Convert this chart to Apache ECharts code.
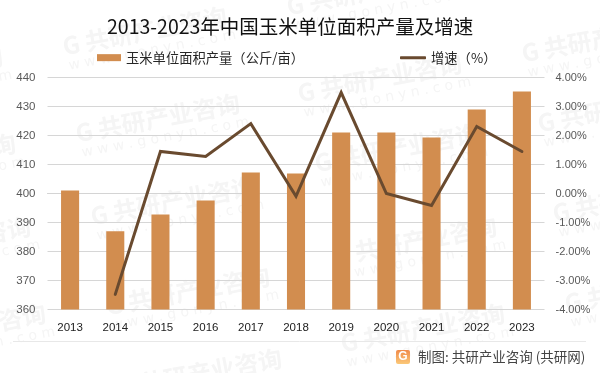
<!DOCTYPE html>
<html><head><meta charset="utf-8">
<style>html,body{margin:0;padding:0;background:#fff}#c{width:600px;height:373px}</style>
<script src="https://cdn.jsdelivr.net/npm/echarts@6/dist/echarts.min.js"></script>
</head><body><div id="c"></div>
<script>
const categories=['2013','2014','2015','2016','2017','2018','2019','2020','2021','2022','2023'];
const yieldValues=[401,387,392.8,397.6,407.2,406.9,421,421,419.3,429,435.2];
const growthValues=[null,-3.48,1.45,1.28,2.41,-0.1,3.48,0,-0.41,2.31,1.45];
const title='2013-2023年中国玉米单位面积产量及增速';
const barName='玉米单位面积产量（公斤/亩）';
const lineName='增速（%）';
const source='制图: 共研产业咨询 (共研网)';
const markOrigins=[[-159,98],[65,58],[289,18],[513,-22],[-146,185],[78,145],[300,105],[524,65],[-131,268],[93,228],[317,175],[540,135],[-116,355],[108,318],[335,268],[555,225],[120,400],[343,355],[567,315]];
const marks=[];
markOrigins.forEach(function(p){
  marks.push({type:'text',x:p[0],y:p[1],rotation:0.184,silent:true,z:0,
    style:{text:'G 共研产业咨询',font:'bold 24px "Noto Sans CJK SC"',fill:'#f5f5f5',textVerticalAlign:'bottom'}});
  marks.push({type:'text',x:p[0]+5,y:p[1]+15,rotation:0.184,silent:true,z:0,
    style:{text:'w w w . g o n y n . c o m',font:'14px "DejaVu Sans"',fill:'#f5f5f5',textVerticalAlign:'bottom'}});
});
const chart=echarts.init(document.getElementById('c'),null,{renderer:'canvas'});
const legendText={fontFamily:'"Noto Sans CJK SC"',fontSize:13.3,color:'#262626'};
chart.setOption({
  animation:false,backgroundColor:'#fff',
  title:{text:title,left:102,top:12,textStyle:{fontFamily:'"Noto Sans CJK SC"',fontSize:19.5,fontWeight:'normal',color:'#111'}},
  legend:[
    {top:46,left:92,itemGap:0,itemWidth:24,itemHeight:7,icon:'rect',textStyle:legendText,data:[barName]},
    {top:46,left:395,itemGap:0,itemWidth:26,itemHeight:3,icon:'roundRect',textStyle:legendText,data:[lineName]}
  ],
  grid:{left:47.5,right:55.5,top:77.5,height:232,containLabel:false},
  xAxis:{type:'category',data:categories,axisTick:{show:false},axisLine:{lineStyle:{color:'#d4d4d4',width:1}},
    axisLabel:{color:'#222',fontSize:11.5,fontFamily:'"Liberation Sans"',margin:12}},
  yAxis:[
    {type:'value',min:360,max:440,interval:10,axisLine:{show:false},axisTick:{show:false},
      splitLine:{lineStyle:{color:'#d6d6d6',width:1}},
      axisLabel:{color:'#595959',fontSize:11.5,fontFamily:'"Liberation Sans"',margin:12}},
    {type:'value',min:-4,max:4,interval:1,axisLine:{show:false},axisTick:{show:false},splitLine:{show:false},
      axisLabel:{color:'#595959',fontSize:11,fontFamily:'"Liberation Sans"',margin:11,align:'left',
        formatter:function(v){return v.toFixed(2)+'%';}}}
  ],
  series:[
    {name:barName,type:'bar',data:yieldValues,barWidth:'40%',z:2,itemStyle:{color:'#d28d4f'}},
    {name:lineName,type:'line',yAxisIndex:1,data:growthValues,symbol:'none',z:3,
      lineStyle:{color:'#694a2f',width:3,cap:'round',join:'miter'},itemStyle:{color:'#694a2f'}}
  ],
  graphic:marks.concat([
    {type:'line',silent:true,shape:{x1:13,y1:341.5,x2:586,y2:341.5},style:{stroke:'#e8e8e8',lineWidth:1}},
    {type:'rect',silent:true,shape:{x:396,y:350,width:14,height:14,r:2},
      style:{fill:new echarts.graphic.LinearGradient(0,0,0,1,[{offset:0,color:'#f08a4a'},{offset:1,color:'#fbc878'}])}},
    {type:'text',silent:true,x:403,y:357,style:{text:'G',font:'bold 12px "Liberation Sans"',fill:'#fff',textAlign:'center',textVerticalAlign:'middle'}},
    {type:'text',silent:true,x:418,y:356.5,style:{text:source,font:'13.5px "Noto Sans CJK SC"',fill:'#444',textVerticalAlign:'middle'}}
  ])
});
</script></body></html>
